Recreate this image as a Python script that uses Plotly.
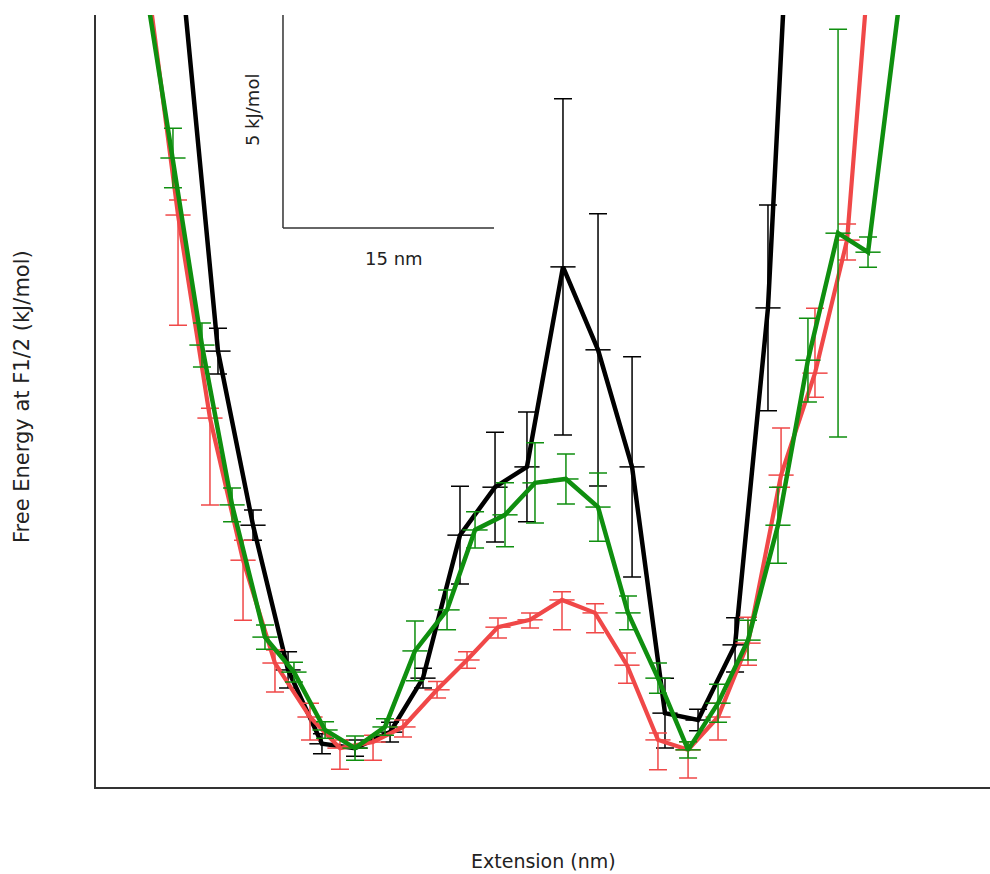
import plotly.graph_objects as go

# Extension (nm) and free energy (kJ/mol)
black_x = [6.25, 8.67, 11.16, 13.65, 16.06, 18.41, 20.90, 23.24, 25.87, 28.36, 30.63, 33.19,
           35.68, 38.10, 40.44, 42.79, 45.42, 47.76, 50.18]
black_y = [18.33, 10.09, 6.06, 2.71, 1.00, 0.90, 1.27, 2.52, 5.83, 6.94, 7.41, 12.04,
           10.12, 7.41, 1.71, 1.55, 3.29, 11.09, 26.44]
black_err = [0, 0.53, 0.35, 0.42, 0.23, 0.19, 0.23, 0.23, 1.13, 1.27, 1.27, 3.89,
             3.15, 2.55, 0.81, 0.25, 0.63, 2.38, 0]

red_x = [3.55, 5.83, 8.10, 10.45, 12.72, 15.21, 17.34, 19.69, 21.82, 24.24, 26.37, 28.57,
         30.85, 33.12, 35.47, 37.74, 39.94, 42.08, 44.21, 46.34, 48.69, 51.10, 53.38, 55.65]
red_y = [18.94, 13.24, 8.54, 5.25, 2.87, 1.62, 0.90, 1.04, 1.39, 2.25, 2.94, 3.70,
         3.87, 4.33, 4.03, 2.82, 1.09, 0.86, 1.62, 3.33, 7.22, 9.58, 12.66, 21.92]
red_err_up = [0, 0.35, 0.23, 0.46, 0.30, 0.32, 0.19, 0.16, 0.16, 0.19, 0.19, 0.21,
              0.16, 0.19, 0.21, 0.28, 0.16, 0.19, 0.32, 0.60, 1.09, 1.50, 0.37, 0]
red_err_down = [0, 2.55, 2.01, 1.39, 0.67, 0.53, 0.49, 0.42, 0.23, 0.19, 0.19, 0.25,
                0.19, 0.69, 0.46, 0.42, 0.69, 0.65, 0.53, 0.51, 0.28, 0.56, 0.46, 0]

green_x = [3.34, 5.47, 7.53, 9.67, 12.01, 14.07, 16.28, 18.41, 20.54, 22.67, 24.95, 26.94,
           29.07, 31.20, 33.40, 35.68, 37.81, 39.94, 42.08, 44.21, 46.34, 48.47, 50.60,
           52.74, 54.87, 57.07]
green_y = [18.91, 14.56, 10.23, 6.53, 3.47, 2.66, 1.32, 0.90, 1.39, 3.15, 4.10, 5.95,
           6.30, 7.04, 7.13, 6.48, 4.03, 2.52, 0.86, 1.94, 3.40, 6.06, 9.88,
           12.82, 12.38, 18.10]
green_err = [0, 0.69, 0.51, 0.39, 0.28, 0.23, 0.19, 0.28, 0.19, 0.69, 0.46, 0.42,
             0.74, 0.93, 0.58, 0.79, 0.39, 0.35, 0.19, 0.44, 0.46, 0.88, 0.97,
             4.72, 0.35, 0]

scale_x0, scale_y0 = 13.29, 12.94
scale_dx, scale_dy = 15, 5

BLACK = "#000000"
RED = "#f04848"
GREEN = "#0f8f0f"

fig = go.Figure()

def add_series(x, y, up, down, color, width):
    fig.add_trace(go.Scatter(
        x=x, y=y, mode="lines+markers",
        line=dict(color=color, width=width),
        marker=dict(symbol="line-ew", size=18, color=color,
                    line=dict(color=color, width=1.5)),
        error_y=dict(type="data", symmetric=False, array=up, arrayminus=down,
                     color=color, thickness=1.5, width=9),
        cliponaxis=True, showlegend=False, hoverinfo="skip",
    ))

add_series(black_x, black_y, black_err, black_err, BLACK, 4.5)
add_series(red_x, red_y, red_err_up, red_err_down, RED, 4.2)
add_series(green_x, green_y, green_err, green_err, GREEN, 4.5)

# scale bar
fig.add_shape(type="line", x0=scale_x0, x1=scale_x0, y0=scale_y0, y1=scale_y0 + scale_dy,
              line=dict(color="#333333", width=1.5))
fig.add_shape(type="line", x0=scale_x0, x1=scale_x0 + scale_dx, y0=scale_y0, y1=scale_y0,
              line=dict(color="#333333", width=1.5))

FONT = "DejaVu Sans"
fig.add_annotation(x=scale_x0 - 2.2, y=scale_y0 + 2.73, xref="x", yref="y",
                   xanchor="center", yanchor="middle",
                   text="5 kJ/mol", showarrow=False, textangle=-90,
                   font=dict(family=FONT, size=18, color="#222222"))
fig.add_annotation(x=scale_x0 + 7.9, y=scale_y0 - 0.7, xref="x", yref="y",
                   xanchor="center", yanchor="middle",
                   text="15 nm", showarrow=False,
                   font=dict(family=FONT, size=18, color="#222222"))

# axis titles
fig.add_annotation(x=(22 - 96) / 894, y=(787 - 397) / 772, xref="paper", yref="paper",
                   xanchor="center", yanchor="middle",
                   text="Free Energy at F1/2 (kJ/mol)", showarrow=False, textangle=-90,
                   font=dict(family=FONT, size=21, color="#222222"))
fig.add_annotation(x=(543 - 96) / 894, y=(787 - 861) / 772, xref="paper", yref="paper",
                   xanchor="center", yanchor="middle",
                   text="Extension (nm)", showarrow=False,
                   font=dict(family=FONT, size=19, color="#222222"))

fig.update_xaxes(range=[0, 894 / 14.07], showline=True, linecolor="#333333", linewidth=2,
                 showgrid=False, zeroline=False, showticklabels=False, ticks="")
fig.update_yaxes(range=[0, 772 / 43.2], showline=True, linecolor="#333333", linewidth=2,
                 showgrid=False, zeroline=False, showticklabels=False, ticks="")

fig.update_layout(width=990, height=874, margin=dict(l=96, r=0, t=15, b=87),
                  plot_bgcolor="white", paper_bgcolor="white")

fig.write_html("out.html")
